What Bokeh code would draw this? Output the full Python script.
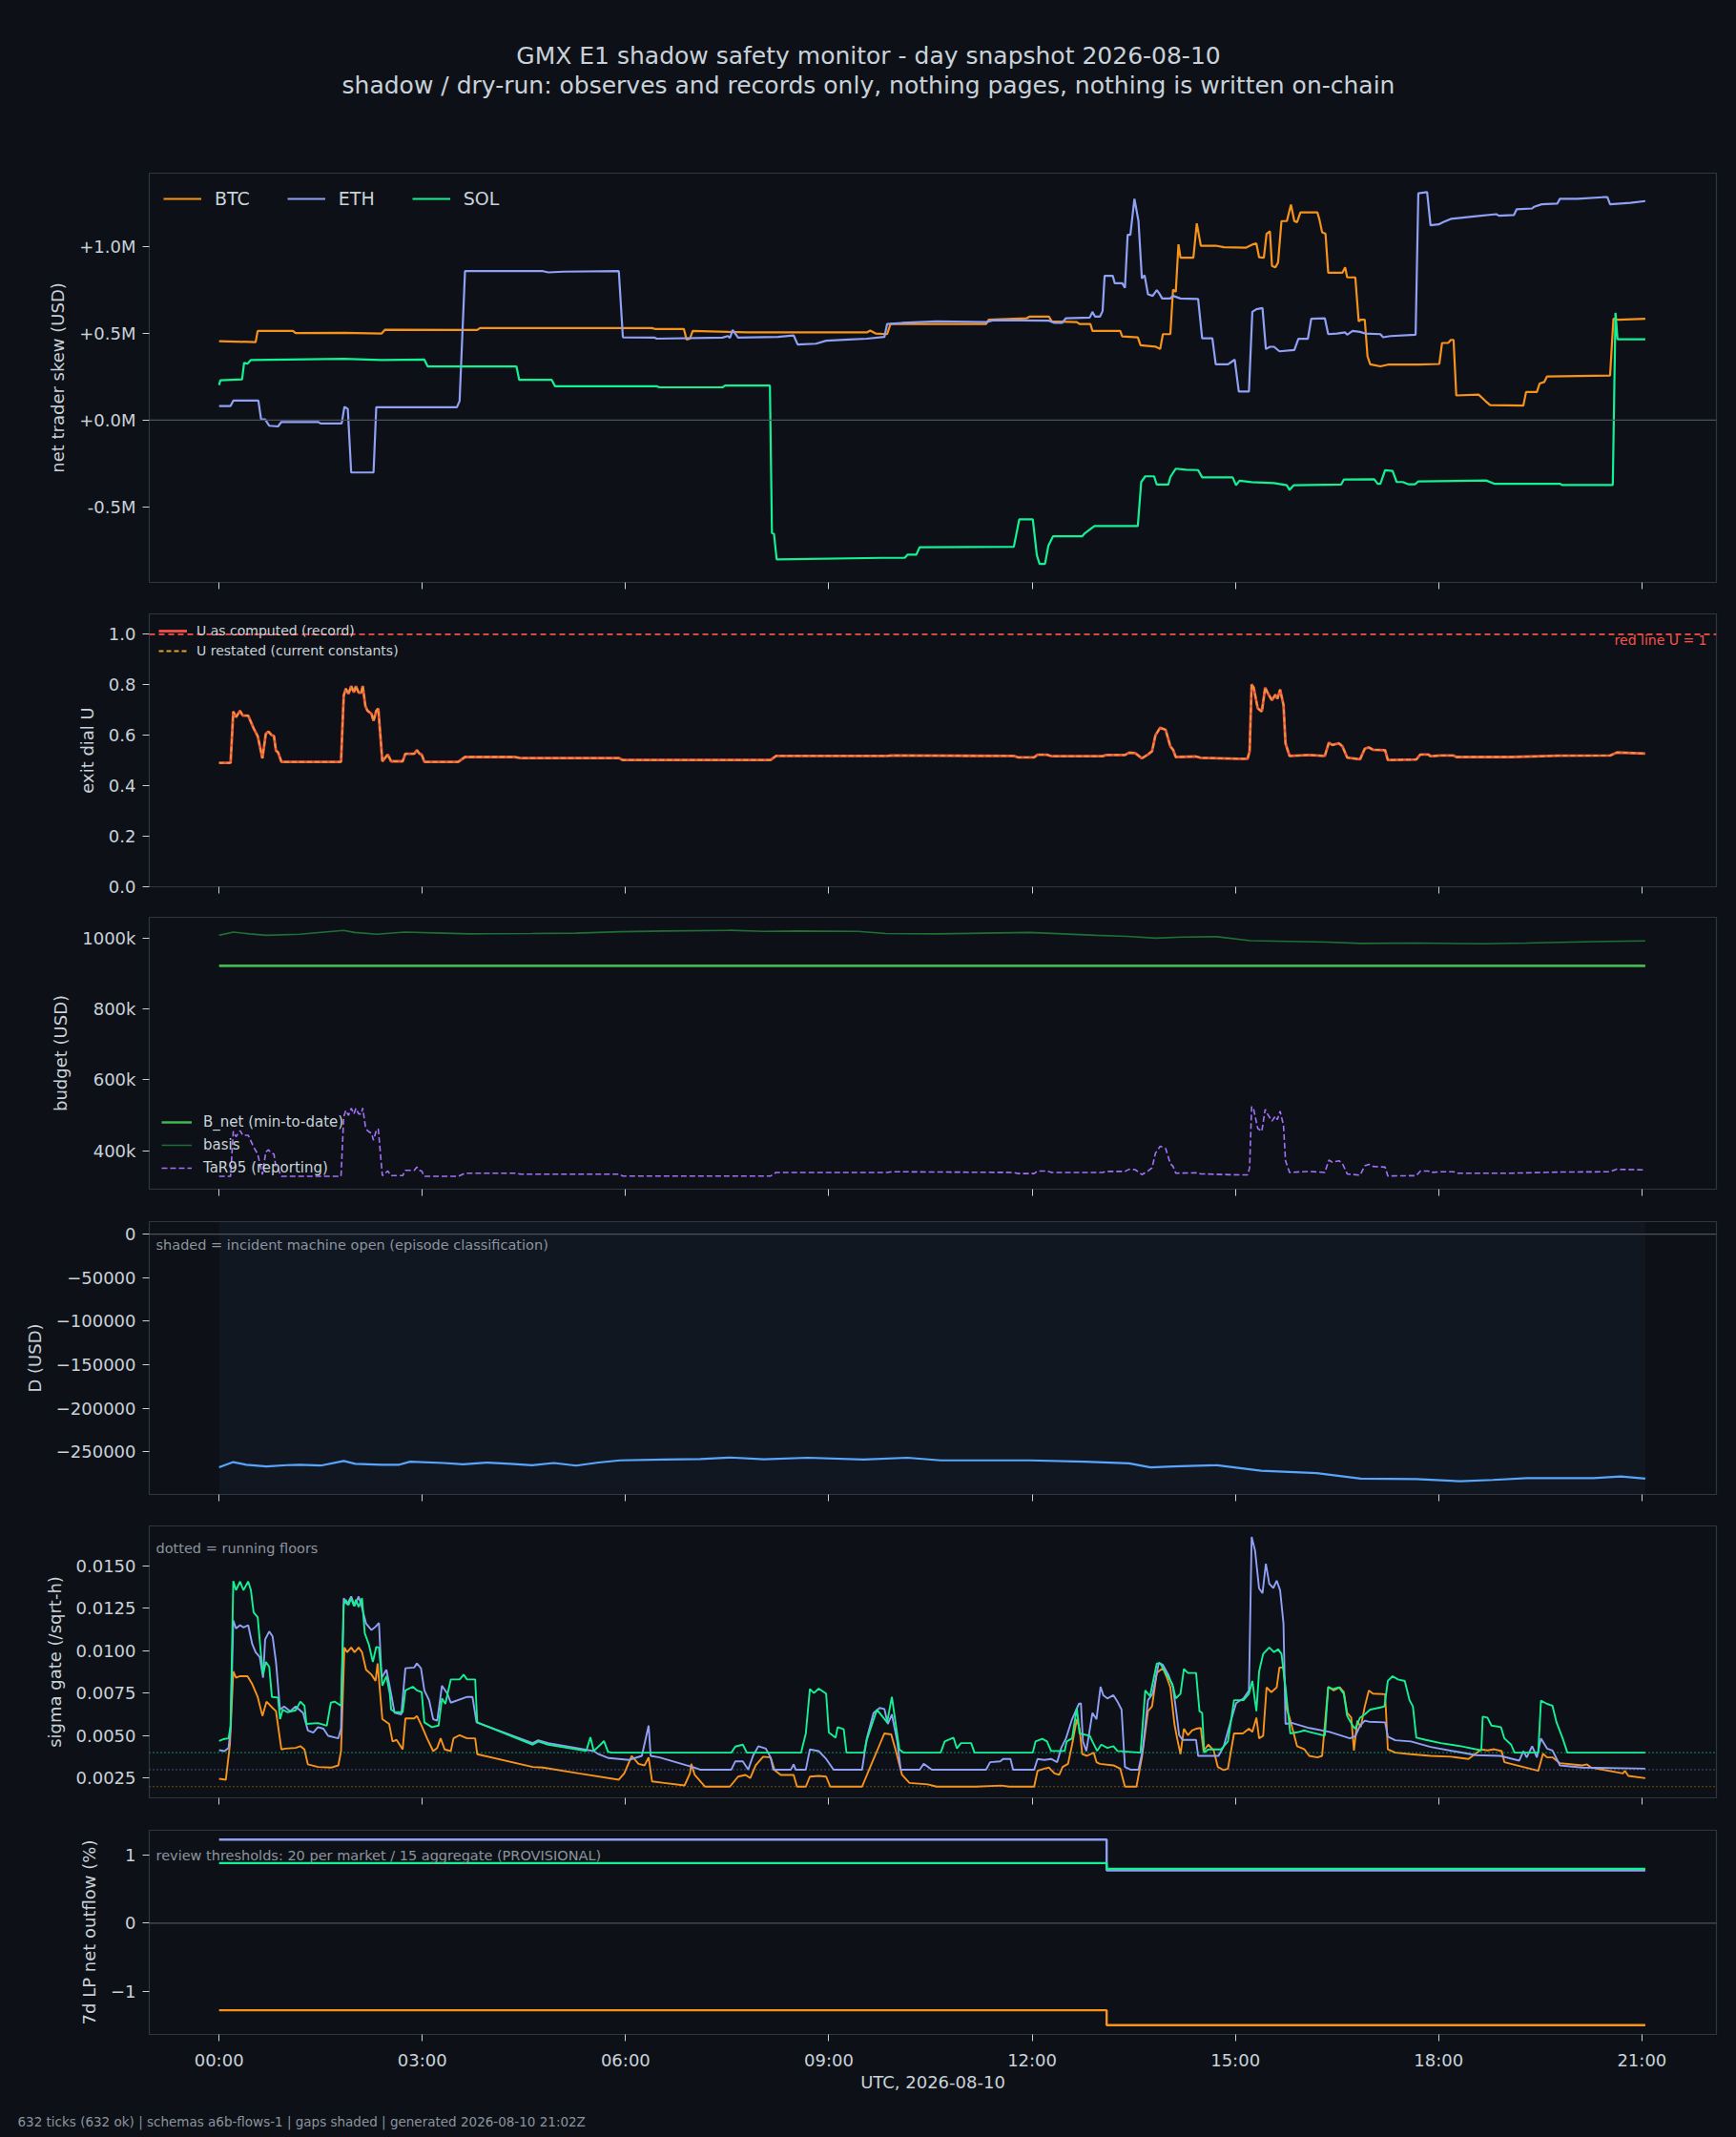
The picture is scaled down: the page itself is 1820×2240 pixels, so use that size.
from bokeh.plotting import figure
from bokeh.layouts import column
from bokeh.models import Range1d, FixedTicker, Span, Label, Legend, LegendItem, BoxAnnotation, Title
from bokeh.embed import file_html
from bokeh.resources import INLINE

BG = "#0d1117"
FRAME = "#30363d"
TXT = "#c9d1d9"
MUTED = "#8b949e"
C_BTC = "#f7931a"
C_ETH = "#8fa0f5"
C_SOL = "#14f195"
FONT = "DejaVu Sans"

# x axis: hours since 00:00 UTC
tick_hours = [0, 3, 6, 9, 12, 15, 18, 21]
tick_labels = ["00:00", "03:00", "06:00", "09:00", "12:00", "15:00", "18:00", "21:00"]

# net trader skew, (hour, USD millions)
btc_skew = [(0, 0.456), (0.54, 0.45), (0.57, 0.515), (1.09, 0.515), (1.13, 0.502), (1.84, 0.504),
            (2.40, 0.50), (2.45, 0.522), (3.81, 0.52), (3.85, 0.531), (6.39, 0.531), (6.43, 0.526),
            (6.86, 0.526), (6.90, 0.465), (6.95, 0.47), (6.99, 0.515), (7.81, 0.506), (9.56, 0.506),
            (9.61, 0.517), (9.69, 0.50), (9.86, 0.496), (9.91, 0.555), (11.32, 0.555), (11.36, 0.579),
            (11.92, 0.588), (11.96, 0.597), (12.25, 0.597), (12.29, 0.570), (12.66, 0.566), (12.70, 0.555),
            (12.86, 0.555), (12.89, 0.515), (13.30, 0.515), (13.33, 0.483), (13.56, 0.478), (13.60, 0.432),
            (13.82, 0.424), (13.89, 0.41), (13.93, 0.496), (14.04, 0.496), (14.08, 0.754), (14.12, 0.74),
            (14.16, 1.015), (14.19, 0.9375), (14.38, 0.9375), (14.43, 1.136), (14.49, 1.007), (14.71, 1.007),
            (14.83, 0.998), (15.16, 0.996), (15.26, 1.015), (15.31, 1.02), (15.35, 0.94), (15.42, 0.937),
            (15.46, 1.075), (15.51, 1.09), (15.54, 0.89), (15.59, 0.882), (15.63, 0.91), (15.68, 1.149),
            (15.76, 1.149), (15.82, 1.244), (15.87, 1.149), (15.91, 1.143), (15.96, 1.199), (16.21, 1.2),
            (16.24, 1.158), (16.28, 1.085), (16.33, 1.076), (16.37, 0.851), (16.58, 0.851), (16.62, 0.882),
            (16.65, 0.824), (16.77, 0.824), (16.82, 0.57), (16.85, 0.579), (16.91, 0.579), (16.95, 0.368),
            (16.99, 0.322), (17.14, 0.31), (17.25, 0.32), (17.70, 0.32), (18.01, 0.324), (18.05, 0.445),
            (18.14, 0.445), (18.18, 0.463), (18.22, 0.463), (18.26, 0.142), (18.59, 0.147), (18.69, 0.11),
            (18.76, 0.086), (19.25, 0.083), (19.29, 0.162), (19.45, 0.162), (19.49, 0.211), (19.56, 0.22),
            (19.60, 0.252), (20.53, 0.257), (20.58, 0.585), (20.66, 0.579), (21.05, 0.585)]
eth_skew = [(0, 0.081), (0.17, 0.081), (0.21, 0.112), (0.58, 0.112), (0.62, 0.005), (0.68, 0.004),
            (0.74, -0.033), (0.87, -0.037), (0.92, -0.011), (1.46, -0.011), (1.50, -0.02), (1.81, -0.02),
            (1.85, 0.077), (1.90, 0.064), (1.95, -0.303), (2.28, -0.303), (2.32, 0.074), (3.51, 0.074),
            (3.55, 0.11), (3.63, 0.86), (4.78, 0.86), (4.86, 0.853), (5.08, 0.857), (5.90, 0.86),
            (5.96, 0.478), (6.43, 0.476), (6.46, 0.47), (7.43, 0.476), (7.51, 0.485), (7.54, 0.474),
            (7.58, 0.52), (7.66, 0.476), (8.25, 0.48), (8.48, 0.489), (8.54, 0.436), (8.81, 0.441),
            (8.96, 0.458), (9.30, 0.465), (9.56, 0.47), (9.82, 0.48), (9.86, 0.555), (10.08, 0.561),
            (10.59, 0.57), (11.32, 0.566), (11.43, 0.577), (12.25, 0.574), (12.33, 0.561), (12.44, 0.561),
            (12.50, 0.588), (12.85, 0.592), (12.89, 0.625), (12.93, 0.597), (13.00, 0.597), (13.04, 0.629),
            (13.07, 0.833), (13.19, 0.833), (13.22, 0.79), (13.33, 0.79), (13.37, 0.763), (13.41, 1.07),
            (13.45, 1.07), (13.51, 1.278), (13.57, 1.149), (13.62, 0.818), (13.66, 0.836), (13.71, 0.726),
            (13.78, 0.717), (13.84, 0.75), (13.87, 0.735), (13.92, 0.702), (14.04, 0.702), (14.08, 0.717),
            (14.19, 0.702), (14.45, 0.699), (14.51, 0.472), (14.66, 0.472), (14.71, 0.322), (14.89, 0.322),
            (14.94, 0.335), (14.99, 0.349), (15.05, 0.165), (15.20, 0.165), (15.25, 0.625), (15.31, 0.64),
            (15.40, 0.647), (15.45, 0.41), (15.51, 0.423), (15.57, 0.423), (15.65, 0.397), (15.87, 0.404),
            (15.93, 0.469), (16.07, 0.469), (16.12, 0.585), (16.32, 0.588), (16.37, 0.496), (16.50, 0.5),
            (16.62, 0.506), (16.65, 0.493), (16.73, 0.515), (16.84, 0.509), (16.91, 0.5), (17.14, 0.496),
            (17.18, 0.478), (17.29, 0.485), (17.66, 0.493), (17.70, 1.31), (17.83, 1.316), (17.88, 1.125),
            (18.00, 1.13), (18.07, 1.143), (18.18, 1.162), (18.52, 1.176), (18.85, 1.189), (18.89, 1.18),
            (19.11, 1.184), (19.15, 1.217), (19.38, 1.222), (19.41, 1.232), (19.52, 1.246), (19.75, 1.25),
            (19.79, 1.278), (20.05, 1.278), (20.42, 1.287), (20.49, 1.287), (20.53, 1.246), (20.83, 1.254),
            (21.05, 1.265)]
sol_skew = [(0, 0.202), (0.02, 0.23), (0.34, 0.235), (0.37, 0.331), (0.42, 0.325), (0.47, 0.347),
            (1.84, 0.353), (2.40, 0.347), (3.03, 0.349), (3.08, 0.309), (4.39, 0.309), (4.43, 0.232),
            (4.91, 0.232), (4.96, 0.195), (6.46, 0.195), (6.50, 0.189), (7.43, 0.189), (7.47, 0.199),
            (8.13, 0.199), (8.16, -0.653), (8.19, -0.657), (8.23, -0.805), (9.78, -0.796), (10.12, -0.796),
            (10.16, -0.778), (10.29, -0.778), (10.34, -0.735), (11.73, -0.732), (11.81, -0.574), (12.01, -0.574),
            (12.07, -0.781), (12.11, -0.831), (12.19, -0.831), (12.24, -0.726), (12.31, -0.671), (12.74, -0.671),
            (12.78, -0.653), (12.92, -0.612), (13.56, -0.612), (13.61, -0.358), (13.67, -0.325), (13.80, -0.325),
            (13.84, -0.373), (14.01, -0.373), (14.04, -0.329), (14.12, -0.281), (14.27, -0.287), (14.45, -0.289),
            (14.51, -0.331), (14.96, -0.331), (15.01, -0.377), (15.06, -0.35), (15.24, -0.359), (15.57, -0.364),
            (15.76, -0.377), (15.80, -0.404), (15.86, -0.377), (16.56, -0.373), (16.60, -0.344), (17.05, -0.342),
            (17.10, -0.368), (17.14, -0.368), (17.21, -0.29), (17.32, -0.294), (17.38, -0.358), (17.47, -0.358),
            (17.55, -0.371), (17.65, -0.371), (17.70, -0.355), (18.70, -0.349), (18.82, -0.368), (19.79, -0.368),
            (19.82, -0.375), (20.57, -0.375), (20.61, 0.619), (20.64, 0.467), (21.05, 0.467)]

# exit dial U (record; restated overlaps) and TaR95 reporting (USD thousands), same ticks
u_hours = [0, 0.17, 0.21, 0.25, 0.31, 0.35, 0.43, 0.51, 0.57, 0.64, 0.69, 0.73, 0.77, 0.81, 0.84, 0.87,
           0.92, 1.80, 1.84, 1.87, 1.91, 1.95, 1.99, 2.02, 2.06, 2.10, 2.12, 2.16, 2.19, 2.25, 2.28, 2.32,
           2.35, 2.41, 2.49, 2.54, 2.71, 2.75, 2.88, 2.92, 2.96, 2.99, 3.03, 3.53, 3.63, 4.37, 4.45, 5.90,
           5.96, 8.14, 8.22, 9.86, 9.93, 11.73, 11.79, 12.03, 12.08, 12.22, 12.29, 13.04, 13.09, 13.37,
           13.43, 13.52, 13.62, 13.71, 13.77, 13.82, 13.89, 13.97, 14.04, 14.08, 14.12, 14.42, 14.49, 15.05,
           15.18, 15.21, 15.24, 15.27, 15.33, 15.39, 15.44, 15.48, 15.54, 15.59, 15.62, 15.66, 15.71, 15.74,
           15.80, 16.09, 16.32, 16.38, 16.43, 16.53, 16.58, 16.65, 16.84, 16.91, 16.97, 17.03, 17.21, 17.25,
           17.67, 17.73, 17.85, 17.88, 18.03, 18.22, 18.26, 19.08, 19.75, 20.53, 20.63, 21.05]
u_record = [0.491, 0.491, 0.694, 0.672, 0.697, 0.678, 0.678, 0.628, 0.597, 0.509, 0.606, 0.615, 0.602, 0.597,
            0.539, 0.533, 0.495, 0.495, 0.757, 0.785, 0.764, 0.795, 0.770, 0.795, 0.769, 0.769, 0.796, 0.716,
            0.698, 0.685, 0.657, 0.697, 0.706, 0.497, 0.524, 0.497, 0.497, 0.527, 0.527, 0.541, 0.527, 0.524,
            0.495, 0.495, 0.514, 0.514, 0.510, 0.510, 0.502, 0.502, 0.518, 0.518, 0.520, 0.518, 0.513, 0.513,
            0.523, 0.523, 0.517, 0.517, 0.522, 0.522, 0.531, 0.530, 0.509, 0.524, 0.537, 0.600, 0.630, 0.622,
            0.556, 0.543, 0.514, 0.516, 0.511, 0.507, 0.507, 0.537, 0.802, 0.789, 0.707, 0.694, 0.789, 0.766,
            0.739, 0.761, 0.745, 0.781, 0.720, 0.568, 0.518, 0.522, 0.518, 0.571, 0.562, 0.568, 0.556, 0.512,
            0.505, 0.547, 0.552, 0.543, 0.541, 0.502, 0.504, 0.524, 0.524, 0.517, 0.520, 0.520, 0.514, 0.514,
            0.519, 0.520, 0.532, 0.528]
u_restated = [0.491, 0.491, 0.694, 0.672, 0.697, 0.678, 0.678, 0.628, 0.597, 0.509, 0.606, 0.615, 0.602, 0.597,
              0.539, 0.533, 0.495, 0.495, 0.757, 0.785, 0.764, 0.795, 0.770, 0.795, 0.769, 0.769, 0.796, 0.716,
              0.698, 0.685, 0.657, 0.697, 0.706, 0.497, 0.524, 0.497, 0.497, 0.527, 0.527, 0.541, 0.527, 0.524,
              0.495, 0.495, 0.514, 0.514, 0.510, 0.510, 0.502, 0.502, 0.518, 0.518, 0.520, 0.518, 0.513, 0.513,
              0.523, 0.523, 0.517, 0.517, 0.522, 0.522, 0.531, 0.530, 0.509, 0.524, 0.537, 0.600, 0.630, 0.622,
              0.556, 0.543, 0.514, 0.516, 0.511, 0.507, 0.507, 0.537, 0.802, 0.789, 0.707, 0.694, 0.789, 0.766,
              0.739, 0.761, 0.745, 0.781, 0.720, 0.568, 0.518, 0.522, 0.518, 0.571, 0.562, 0.568, 0.556, 0.512,
              0.505, 0.547, 0.552, 0.543, 0.541, 0.502, 0.504, 0.524, 0.524, 0.517, 0.520, 0.520, 0.514, 0.514,
              0.519, 0.520, 0.532, 0.528]
tar95_k = [328, 328, 455, 440, 457, 444, 444, 411, 391, 333, 397, 403, 394, 391, 353, 349, 328, 328, 496, 514,
           500, 520, 504, 520, 504, 504, 521, 469, 457, 449, 430, 457, 462, 330, 343, 330, 330, 345, 345, 354,
           345, 343, 328, 328, 337, 337, 334, 334, 329, 329, 339, 339, 341, 339, 336, 336, 343, 343, 339, 339,
           342, 342, 348, 347, 333, 343, 352, 393, 413, 407, 364, 356, 337, 338, 335, 332, 332, 352, 525, 517,
           463, 455, 517, 502, 484, 498, 488, 512, 472, 372, 339, 342, 339, 374, 368, 372, 364, 335, 331, 358,
           362, 356, 354, 329, 330, 343, 343, 339, 341, 341, 337, 337, 340, 341, 348, 346]

# budget, (hour, USD thousands)
b_net = [(0, 922), (21.05, 922)]
basis = [(0, 1008), (0.21, 1017), (0.45, 1012), (0.70, 1008), (1.19, 1011), (1.84, 1022), (2.00, 1016),
         (2.33, 1011), (2.74, 1017), (3.31, 1014), (3.70, 1012), (4.62, 1013), (5.27, 1014), (5.92, 1018),
         (6.57, 1020), (7.55, 1022), (8.04, 1019), (8.53, 1020), (9.43, 1019), (9.84, 1013), (10.60, 1012),
         (11.96, 1016), (12.45, 1012), (12.94, 1008), (13.40, 1005), (13.83, 1000), (14.20, 1003), (14.73, 1004),
         (15.22, 993), (16.36, 989), (16.85, 985), (17.70, 986), (18.65, 984), (19.30, 986), (19.95, 989),
         (20.50, 991), (21.05, 992)]

# D (USD)
d_usd = [(0, -268000), (0.21, -262000), (0.40, -265000), (0.70, -267000), (1.00, -265500), (1.19, -265000),
         (1.50, -266000), (1.84, -260700), (2.01, -264000), (2.40, -265000), (2.66, -265000), (2.82, -261500),
         (3.31, -263000), (3.60, -264500), (3.96, -262500), (4.30, -264000), (4.62, -265600), (4.94, -263000),
         (5.27, -266000), (5.60, -262500), (5.92, -260000), (6.57, -259000), (7.10, -258500), (7.55, -256700),
         (8.04, -258800), (8.69, -257000), (9.51, -259000), (10.16, -257000), (10.65, -260000), (11.30, -260000),
         (11.96, -260000), (12.77, -261600), (13.43, -263500), (13.75, -268000), (14.08, -267000),
         (14.73, -265600), (15.38, -272000), (16.20, -274600), (16.85, -281000), (17.67, -281500),
         (18.32, -284000), (18.80, -282500), (19.30, -280400), (20.28, -280400), (20.69, -278600),
         (21.05, -281000)]
incident_open = [(0.0, 21.05)]

# sigma gate (/sqrt-h), (hour, value) and running floors
btc_sigma = [(0.00, 0.00246), (0.10, 0.00241), (0.16, 0.00447), (0.21, 0.00878), (0.25, 0.00841), (0.31, 0.00850),
             (0.42, 0.00850), (0.49, 0.00803), (0.57, 0.00728), (0.64, 0.00616), (0.70, 0.00700), (0.79, 0.00663),
             (0.84, 0.00644), (0.92, 0.00419), (0.98, 0.00424), (1.13, 0.00428), (1.20, 0.00438), (1.26, 0.00419),
             (1.31, 0.00331), (1.46, 0.00316), (1.65, 0.00312), (1.76, 0.00325), (1.80, 0.00409), (1.85, 0.01019),
             (1.89, 0.00991), (1.95, 0.01019), (2.00, 0.00991), (2.06, 0.01019), (2.11, 0.00991), (2.17, 0.00888),
             (2.25, 0.00859), (2.31, 0.00822), (2.34, 0.00925), (2.41, 0.00597), (2.51, 0.00569), (2.56, 0.00466),
             (2.62, 0.00475), (2.71, 0.00419), (2.75, 0.00601), (2.88, 0.00601), (2.92, 0.00616), (2.99, 0.00559),
             (3.07, 0.00484), (3.16, 0.00409), (3.22, 0.00428), (3.27, 0.00484), (3.33, 0.00419), (3.42, 0.00409),
             (3.46, 0.00484), (3.55, 0.00503), (3.66, 0.00484), (3.78, 0.00484), (3.81, 0.00391), (4.63, 0.00316),
             (4.78, 0.00312), (5.31, 0.00278), (5.90, 0.00241), (5.98, 0.00278), (6.09, 0.00381), (6.19, 0.00334),
             (6.28, 0.00325), (6.34, 0.00372), (6.39, 0.00231), (6.57, 0.00222), (6.87, 0.00207), (6.95, 0.00278),
             (6.97, 0.00334), (7.02, 0.00269), (7.17, 0.00200), (7.54, 0.00200), (7.66, 0.00259), (7.77, 0.00269),
             (7.84, 0.00250), (7.92, 0.00325), (8.03, 0.00376), (8.14, 0.00372), (8.20, 0.00297), (8.29, 0.00269),
             (8.48, 0.00269), (8.53, 0.00200), (8.66, 0.00200), (8.72, 0.00259), (8.85, 0.00263), (8.96, 0.00259),
             (9.02, 0.00200), (9.49, 0.00200), (9.63, 0.00334), (9.75, 0.00447), (9.82, 0.00513), (9.92, 0.00507),
             (9.99, 0.00409), (10.08, 0.00269), (10.19, 0.00222), (10.46, 0.00213), (10.59, 0.00200),
             (11.17, 0.00200), (11.55, 0.00206), (11.66, 0.00200), (12.03, 0.00200), (12.08, 0.00293),
             (12.18, 0.00306), (12.25, 0.00312), (12.33, 0.00278), (12.40, 0.00269), (12.45, 0.00316),
             (12.53, 0.00334), (12.59, 0.00447), (12.66, 0.00597), (12.70, 0.00541), (12.74, 0.00391),
             (12.81, 0.00381), (12.91, 0.00400), (12.95, 0.00344), (13.00, 0.00334), (13.20, 0.00325),
             (13.30, 0.00306), (13.37, 0.00200), (13.54, 0.00200), (13.62, 0.00372), (13.71, 0.00644),
             (13.77, 0.00672), (13.84, 0.00869), (13.93, 0.00897), (13.99, 0.00841), (14.04, 0.00784),
             (14.10, 0.00569), (14.14, 0.00484), (14.19, 0.00391), (14.24, 0.00541), (14.30, 0.00503),
             (14.36, 0.00531), (14.42, 0.00541), (14.49, 0.00545), (14.53, 0.00409), (14.60, 0.00447),
             (14.68, 0.00413), (14.74, 0.00316), (14.83, 0.00297), (14.89, 0.00306), (14.98, 0.00513),
             (15.11, 0.00513), (15.20, 0.00541), (15.25, 0.00522), (15.31, 0.00606), (15.35, 0.00484),
             (15.41, 0.00499), (15.46, 0.00784), (15.53, 0.00756), (15.61, 0.00784), (15.65, 0.00901),
             (15.71, 0.00901), (15.76, 0.00653), (15.80, 0.00606), (15.91, 0.00438), (16.02, 0.00419),
             (16.09, 0.00381), (16.21, 0.00372), (16.28, 0.00381), (16.37, 0.00788), (16.45, 0.00766),
             (16.54, 0.00784), (16.60, 0.00756), (16.65, 0.00634), (16.71, 0.00606), (16.75, 0.00413),
             (16.80, 0.00588), (16.85, 0.00550), (16.91, 0.00672), (16.97, 0.00766), (17.03, 0.00747),
             (17.21, 0.00744), (17.25, 0.00419), (17.36, 0.00400), (17.59, 0.00391), (17.88, 0.00381),
             (18.18, 0.00376), (18.44, 0.00363), (18.63, 0.00419), (18.72, 0.00413), (18.82, 0.00420),
             (18.93, 0.00409), (18.97, 0.00344), (19.47, 0.00293), (19.54, 0.00394), (19.60, 0.00372),
             (19.68, 0.00372), (19.79, 0.00338), (20.12, 0.00325), (20.19, 0.00331), (20.25, 0.00312),
             (20.72, 0.00278), (20.75, 0.00293), (20.80, 0.00263), (21.05, 0.00250)]
eth_sigma = [(0.00, 0.00415), (0.08, 0.00409), (0.14, 0.00428), (0.17, 0.00541), (0.21, 0.01178), (0.25, 0.01131),
             (0.31, 0.01150), (0.36, 0.01137), (0.43, 0.01150), (0.49, 0.01038), (0.54, 0.00991), (0.60, 0.00963),
             (0.65, 0.00841), (0.68, 0.01066), (0.74, 0.01113), (0.79, 0.01084), (0.84, 0.00934), (0.90, 0.00653),
             (0.96, 0.00672), (1.05, 0.00644), (1.13, 0.00672), (1.24, 0.00634), (1.31, 0.00531), (1.39, 0.00518),
             (1.46, 0.00550), (1.54, 0.00541), (1.61, 0.00499), (1.76, 0.00484), (1.80, 0.00541), (1.84, 0.01309),
             (1.89, 0.01272), (1.95, 0.01319), (2.00, 0.01263), (2.06, 0.01319), (2.11, 0.01253), (2.17, 0.01159),
             (2.25, 0.01122), (2.31, 0.01141), (2.36, 0.01163), (2.40, 0.00841), (2.47, 0.00888), (2.53, 0.00766),
             (2.59, 0.00634), (2.69, 0.00625), (2.75, 0.00897), (2.88, 0.00901), (2.92, 0.00925), (2.98, 0.00897),
             (3.03, 0.00766), (3.10, 0.00709), (3.16, 0.00597), (3.22, 0.00588), (3.29, 0.00794), (3.37, 0.00747),
             (3.42, 0.00694), (3.66, 0.00728), (3.74, 0.00728), (3.80, 0.00578), (4.63, 0.00456), (4.71, 0.00473),
             (4.86, 0.00456), (5.53, 0.00409), (5.60, 0.00391), (5.75, 0.00368), (6.05, 0.00357), (6.24, 0.00381),
             (6.34, 0.00559), (6.37, 0.00381), (6.50, 0.00372), (7.02, 0.00312), (7.10, 0.00300), (7.56, 0.00300),
             (7.62, 0.00349), (7.73, 0.00349), (7.81, 0.00300), (7.88, 0.00381), (7.96, 0.00438), (8.07, 0.00424),
             (8.14, 0.00372), (8.18, 0.00300), (8.44, 0.00300), (8.48, 0.00331), (8.51, 0.00300), (8.66, 0.00300),
             (8.72, 0.00419), (8.85, 0.00409), (8.96, 0.00363), (9.07, 0.00300), (9.49, 0.00300), (9.56, 0.00484),
             (9.66, 0.00634), (9.75, 0.00663), (9.82, 0.00657), (9.87, 0.00569), (9.93, 0.00625), (10.01, 0.00466),
             (10.06, 0.00300), (10.34, 0.00300), (10.40, 0.00334), (10.52, 0.00300), (11.32, 0.00300),
             (11.38, 0.00344), (11.53, 0.00349), (11.57, 0.00363), (11.68, 0.00363), (11.72, 0.00300),
             (12.03, 0.00300), (12.08, 0.00363), (12.18, 0.00357), (12.28, 0.00363), (12.37, 0.00344),
             (12.43, 0.00428), (12.50, 0.00484), (12.59, 0.00597), (12.69, 0.00687), (12.72, 0.00691),
             (12.75, 0.00466), (12.80, 0.00409), (12.89, 0.00634), (12.95, 0.00597), (13.01, 0.00788),
             (13.05, 0.00738), (13.11, 0.00719), (13.20, 0.00738), (13.26, 0.00700), (13.32, 0.00653),
             (13.37, 0.00316), (13.45, 0.00300), (13.57, 0.00300), (13.63, 0.00409), (13.71, 0.00709),
             (13.78, 0.00747), (13.87, 0.00929), (13.93, 0.00916), (14.01, 0.00859), (14.08, 0.00784),
             (14.13, 0.00634), (14.17, 0.00503), (14.22, 0.00475), (14.42, 0.00475), (14.45, 0.00381),
             (14.75, 0.00381), (14.83, 0.00438), (14.90, 0.00541), (15.01, 0.00691), (15.12, 0.00719),
             (15.20, 0.00766), (15.24, 0.01669), (15.29, 0.01590), (15.35, 0.01366), (15.40, 0.01338),
             (15.45, 0.01512), (15.50, 0.01394), (15.56, 0.01369), (15.61, 0.01412), (15.66, 0.01356),
             (15.71, 0.01159), (15.74, 0.00569), (15.83, 0.00575), (16.09, 0.00545), (16.39, 0.00522),
             (16.69, 0.00484), (16.77, 0.00497), (16.84, 0.00559), (16.91, 0.00588), (16.97, 0.00582),
             (17.21, 0.00578), (17.25, 0.00494), (17.36, 0.00473), (17.59, 0.00466), (17.88, 0.00434),
             (18.26, 0.00406), (18.55, 0.00385), (18.91, 0.00381), (19.19, 0.00353), (19.25, 0.00409),
             (19.30, 0.00372), (19.38, 0.00438), (19.45, 0.00372), (19.51, 0.00484), (19.60, 0.00424),
             (19.68, 0.00413), (19.79, 0.00325), (20.12, 0.00312), (21.05, 0.00306)]
sol_sigma = [(0.00, 0.00469), (0.08, 0.00481), (0.14, 0.00484), (0.17, 0.00559), (0.21, 0.01409), (0.25, 0.01356),
             (0.31, 0.01407), (0.36, 0.01356), (0.43, 0.01407), (0.47, 0.01356), (0.51, 0.01225), (0.57, 0.01197),
             (0.62, 0.00972), (0.65, 0.00859), (0.69, 0.00934), (0.74, 0.00906), (0.78, 0.00728), (0.87, 0.00724),
             (0.90, 0.00597), (0.94, 0.00653), (1.01, 0.00638), (1.13, 0.00649), (1.20, 0.00700), (1.26, 0.00676),
             (1.29, 0.00569), (1.46, 0.00574), (1.59, 0.00559), (1.65, 0.00694), (1.71, 0.00700), (1.80, 0.00676),
             (1.84, 0.01272), (1.87, 0.01300), (1.91, 0.01268), (1.95, 0.01309), (1.99, 0.01263), (2.02, 0.01300),
             (2.06, 0.01257), (2.11, 0.01309), (2.15, 0.01103), (2.21, 0.01038), (2.27, 0.00934), (2.32, 0.01022),
             (2.36, 0.01019), (2.41, 0.00794), (2.47, 0.00850), (2.52, 0.00747), (2.54, 0.00653), (2.60, 0.00638),
             (2.71, 0.00638), (2.75, 0.00766), (2.86, 0.00788), (2.92, 0.00766), (2.99, 0.00756), (3.03, 0.00578),
             (3.14, 0.00550), (3.24, 0.00559), (3.29, 0.00719), (3.34, 0.00687), (3.42, 0.00831), (3.55, 0.00831),
             (3.61, 0.00859), (3.66, 0.00831), (3.78, 0.00831), (3.81, 0.00578), (4.63, 0.00447), (4.71, 0.00466),
             (4.86, 0.00447), (5.42, 0.00410), (5.48, 0.00490), (5.53, 0.00410), (5.63, 0.00447), (5.68, 0.00469),
             (5.74, 0.00406), (5.79, 0.00400), (7.56, 0.00400), (7.62, 0.00436), (7.73, 0.00447), (7.79, 0.00400),
             (8.59, 0.00400), (8.66, 0.00513), (8.72, 0.00775), (8.78, 0.00751), (8.85, 0.00777), (8.96, 0.00747),
             (9.00, 0.00518), (9.10, 0.00488), (9.13, 0.00550), (9.22, 0.00537), (9.26, 0.00400), (9.52, 0.00400),
             (9.56, 0.00475), (9.71, 0.00653), (9.86, 0.00578), (9.93, 0.00728), (10.04, 0.00419), (10.10, 0.00400),
             (10.65, 0.00400), (10.71, 0.00466), (10.84, 0.00488), (10.89, 0.00425), (10.95, 0.00456),
             (11.10, 0.00456), (11.15, 0.00400), (12.01, 0.00400), (12.05, 0.00466), (12.15, 0.00481),
             (12.22, 0.00466), (12.28, 0.00410), (12.48, 0.00410), (12.51, 0.00466), (12.59, 0.00484),
             (12.66, 0.00663), (12.70, 0.00513), (12.85, 0.00500), (12.89, 0.00466), (12.96, 0.00410),
             (13.02, 0.00447), (13.11, 0.00428), (13.20, 0.00438), (13.26, 0.00410), (13.60, 0.00400),
             (13.67, 0.00766), (13.74, 0.00732), (13.84, 0.00925), (13.89, 0.00925), (13.93, 0.00897),
             (14.07, 0.00803), (14.12, 0.00719), (14.19, 0.00747), (14.24, 0.00893), (14.30, 0.00869),
             (14.42, 0.00869), (14.47, 0.00644), (14.51, 0.00634), (14.54, 0.00400), (14.60, 0.00419),
             (14.79, 0.00419), (14.89, 0.00466), (14.98, 0.00709), (15.12, 0.00709), (15.20, 0.00747),
             (15.25, 0.00822), (15.31, 0.00644), (15.35, 0.00878), (15.41, 0.00981), (15.50, 0.01019),
             (15.57, 0.00991), (15.63, 0.01009), (15.68, 0.00981), (15.74, 0.00784), (15.81, 0.00513),
             (15.94, 0.00522), (16.02, 0.00531), (16.09, 0.00522), (16.32, 0.00500), (16.37, 0.00784),
             (16.44, 0.00775), (16.53, 0.00784), (16.60, 0.00747), (16.65, 0.00616), (16.73, 0.00559),
             (16.77, 0.00541), (16.84, 0.00606), (16.91, 0.00625), (16.99, 0.00653), (17.14, 0.00666),
             (17.20, 0.00672), (17.25, 0.00822), (17.32, 0.00850), (17.40, 0.00831), (17.50, 0.00822),
             (17.57, 0.00709), (17.62, 0.00672), (17.67, 0.00488), (17.81, 0.00475), (18.03, 0.00456),
             (18.33, 0.00438), (18.63, 0.00413), (18.65, 0.00612), (18.72, 0.00606), (18.78, 0.00559),
             (18.92, 0.00550), (18.97, 0.00484), (19.07, 0.00447), (19.12, 0.00400), (19.47, 0.00400),
             (19.51, 0.00706), (19.60, 0.00687), (19.68, 0.00676), (19.74, 0.00578), (19.83, 0.00484),
             (19.90, 0.00400), (21.05, 0.00400)]
sigma_floor = {"BTC": 0.0020, "ETH": 0.0030, "SOL": 0.0040}

# 7d LP net outflow (%), step after each hour
lp_hours = [0.0, 13.10, 21.05]
lp_btc = [-1.274, -1.493, -1.493]
lp_eth = [1.223, 0.772, 0.772]
lp_sol = [0.879, 0.795, 0.795]


def xs(pairs):
    return [a for a, b in pairs]


def ys(pairs):
    return [b for a, b in pairs]


x_range = Range1d(-1.03, 22.10)
W = 1820


def panel(height, top, bottom, y0, y1, ylabel, yticks, ylabels, last=False):
    p = figure(width=W, height=height, x_range=x_range, y_range=Range1d(y0, y1), title=None,
               output_backend="svg", toolbar_location=None,
               min_border_left=156, min_border_right=21, min_border_top=top, min_border_bottom=bottom,
               background_fill_color=BG, border_fill_color=BG, outline_line_color=FRAME,
               outline_line_width=1.2)
    p.grid.visible = False
    for ax in (p.xaxis[0], p.yaxis[0]):
        ax.axis_line_color = None
        ax.major_tick_line_color = TXT
        ax.major_tick_out = 7
        ax.major_tick_in = 0
        ax.minor_tick_line_color = None
        ax.major_label_text_color = TXT
        ax.major_label_text_font = FONT
        ax.major_label_text_font_size = "18px"
        ax.major_label_standoff = 7
        ax.axis_label_text_color = TXT
        ax.axis_label_text_font = FONT
        ax.axis_label_text_font_size = "18px"
        ax.axis_label_text_font_style = "normal"
    p.xaxis.ticker = FixedTicker(ticks=tick_hours)
    if last:
        p.xaxis.major_label_overrides = dict(zip(tick_hours, tick_labels))
        p.xaxis.major_label_standoff = 9
        p.xaxis.axis_label = "UTC, 2026-08-10"
        p.xaxis.axis_label_standoff = -1
    else:
        # shared x: tick marks only
        p.xaxis.major_label_overrides = {t: "" for t in tick_hours}
        p.xaxis.major_label_text_font_size = "1px"
        p.xaxis.major_label_standoff = 0
    p.yaxis.ticker = FixedTicker(ticks=yticks)
    p.yaxis.major_label_overrides = dict(zip(yticks, ylabels))
    p.yaxis.axis_label = ylabel
    p.yaxis.axis_label_standoff = 9
    return p


def strip(height):
    # text-only strip; the column lines its frame up with the panels (page x 156..1799)
    s = figure(width=W, height=height, x_range=Range1d(156, 1799), y_range=Range1d(0, height), title=None,
               output_backend="svg", toolbar_location=None, x_axis_location=None, y_axis_location=None,
               min_border=0, outline_line_color=None, background_fill_color=BG, border_fill_color=BG)
    s.grid.visible = False
    return s


def note(p, text, x, y, color=MUTED, size="14.5px", align="left", units="screen"):
    p.add_layout(Label(x=x, y=y, x_units=units, y_units=units, text=text, text_color=color,
                       text_font=FONT, text_font_size=size, text_align=align, text_baseline="middle"))


def zero_line(p):
    p.add_layout(Span(location=0, dimension="width", line_color="#4b525b", line_width=1.3))


head = strip(160)
note(head, "GMX E1 shadow safety monitor - day snapshot 2026-08-10", 910, 102, TXT, "25px", "center", "data")
note(head, "shadow / dry-run: observes and records only, nothing pages, nothing is written on-chain",
     910, 71, TXT, "25px", "center", "data")

# 1) net trader skew
p1 = panel(467, 21, 17, -0.938, 1.426, "net trader skew (USD)",
           [-0.5, 0.0, 0.5, 1.0], ["-0.5M", "+0.0M", "+0.5M", "+1.0M"])
zero_line(p1)
r_btc = p1.line(xs(btc_skew), ys(btc_skew), line_color=C_BTC, line_width=2.2)
r_eth = p1.line(xs(eth_skew), ys(eth_skew), line_color=C_ETH, line_width=2.2)
r_sol = p1.line(xs(sol_skew), ys(sol_skew), line_color=C_SOL, line_width=2.2)
leg1 = Legend(items=[LegendItem(label="BTC", renderers=[r_btc]), LegendItem(label="ETH", renderers=[r_eth]),
                     LegendItem(label="SOL", renderers=[r_sol])],
              orientation="horizontal", location="top_left", background_fill_alpha=0, border_line_alpha=0,
              label_text_color=TXT, label_text_font=FONT, label_text_font_size="19px",
              glyph_width=40, glyph_height=24, label_height=24, label_standoff=14, spacing=39,
              margin=5, padding=10)
p1.add_layout(leg1)

# 2) exit dial U
p2 = panel(318, 16, 16, 0.0, 1.081, "exit dial U",
           [0.0, 0.2, 0.4, 0.6, 0.8, 1.0], ["0.0", "0.2", "0.4", "0.6", "0.8", "1.0"])
p2.add_layout(Span(location=1.0, dimension="width", line_color="#f85149", line_width=1.8, line_dash="6 4"))
r_urec = p2.line(u_hours, u_record, line_color="#f85149", line_width=2.8)
r_ures = p2.line(u_hours, u_restated, line_color="#e0a030", line_width=1.8, line_dash="5 3")
leg2 = Legend(items=[LegendItem(label="U as computed (record)", renderers=[r_urec]),
                     LegendItem(label="U restated (current constants)", renderers=[r_ures])],
              location="top_left", background_fill_alpha=0, border_line_alpha=0,
              label_text_color=TXT, label_text_font=FONT, label_text_font_size="14px",
              glyph_width=30, glyph_height=16, label_height=16, label_standoff=10, spacing=5,
              margin=4, padding=6)
p2.add_layout(leg2)
note(p2, "red line U = 1", 1633, 259, "#f85149", "14px", "right")

# 3) budget
p3 = panel(318, 16, 17, 291.8, 1058.8, "budget (USD)",
           [400, 600, 800, 1000], ["400k", "600k", "800k", "1000k"])
r_bnet = p3.line(xs(b_net), ys(b_net), line_color="#3fb950", line_width=2.6)
r_basis = p3.line(xs(basis), ys(basis), line_color="#1f6f35", line_width=1.6)
r_tar = p3.line(u_hours, tar95_k, line_color="#a371f7", line_width=1.6, line_dash="6 3")
leg3 = Legend(items=[LegendItem(label="B_net (min-to-date)", renderers=[r_bnet]),
                     LegendItem(label="basis", renderers=[r_basis]),
                     LegendItem(label="TaR95 (reporting)", renderers=[r_tar])],
              location="bottom_left", background_fill_alpha=0, border_line_alpha=0,
              label_text_color=TXT, label_text_font=FONT, label_text_font_size="15px",
              glyph_width=32, glyph_height=18, label_height=18, label_standoff=12, spacing=6,
              margin=5, padding=8)
p3.add_layout(leg3)

# 4) D
p4 = panel(319, 17, 16, -299200, 14400, "D (USD)",
           [0, -50000, -100000, -150000, -200000, -250000],
           ["0", "\u221250000", "\u2212100000", "\u2212150000", "\u2212200000", "\u2212250000"])
for start, end in incident_open:
    p4.add_layout(BoxAnnotation(left=start, right=end, fill_color="#58a6ff", fill_alpha=0.045,
                                line_color=None))
zero_line(p4)
p4.line(xs(d_usd), ys(d_usd), line_color="#58a6ff", line_width=2.2)
note(p4, "shaded = incident machine open (episode classification)", 7, 262)

# 5) sigma gate
p5 = panel(319, 17, 17, 0.00134, 0.01734, "sigma gate (/sqrt-h)",
           [0.0025, 0.005, 0.0075, 0.01, 0.0125, 0.015],
           ["0.0025", "0.0050", "0.0075", "0.0100", "0.0125", "0.0150"])
colors = {"BTC": C_BTC, "ETH": C_ETH, "SOL": C_SOL}
for name, series in (("BTC", btc_sigma), ("ETH", eth_sigma), ("SOL", sol_sigma)):
    p5.line(xs(series), ys(series), line_color=colors[name], line_width=1.9)
for name in ("BTC", "ETH", "SOL"):
    p5.add_layout(Span(location=sigma_floor[name], dimension="width", line_color=colors[name],
                       line_width=1.1, line_dash="1 3", line_alpha=0.85))
note(p5, "dotted = running floors", 7, 262)

# 6) LP outflow
p6 = panel(307, 17, 76, -1.628, 1.358, "7d LP net outflow (%)",
           [-1, 0, 1], ["\u22121", "0", "1"], last=True)
zero_line(p6)
p6.step(lp_hours, lp_eth, mode="after", line_color=C_ETH, line_width=2.4)
p6.step(lp_hours, lp_sol, mode="after", line_color=C_SOL, line_width=2.4)
p6.step(lp_hours, lp_btc, mode="after", line_color=C_BTC, line_width=2.4)
note(p6, "review thresholds: 20 per market / 15 aggregate (PROVISIONAL)", 7, 188)

# footer line, pushed left of the frame with a negative offset
foot = strip(32)
foot.add_layout(Title(text="632 ticks (632 ok) | schemas a6b-flows-1 | gaps shaded | generated 2026-08-10 21:02Z",
                      align="left", vertical_align="bottom", offset=-138, standoff=10, text_color=MUTED,
                      text_font=FONT, text_font_size="13.5px", text_font_style="normal"), "above")

layout = column(head, p1, p2, p3, p4, p5, p6, foot, spacing=0, styles={"background-color": BG})
open("out.html", "w").write(file_html(layout, INLINE, title="GMX E1 shadow safety monitor"))
